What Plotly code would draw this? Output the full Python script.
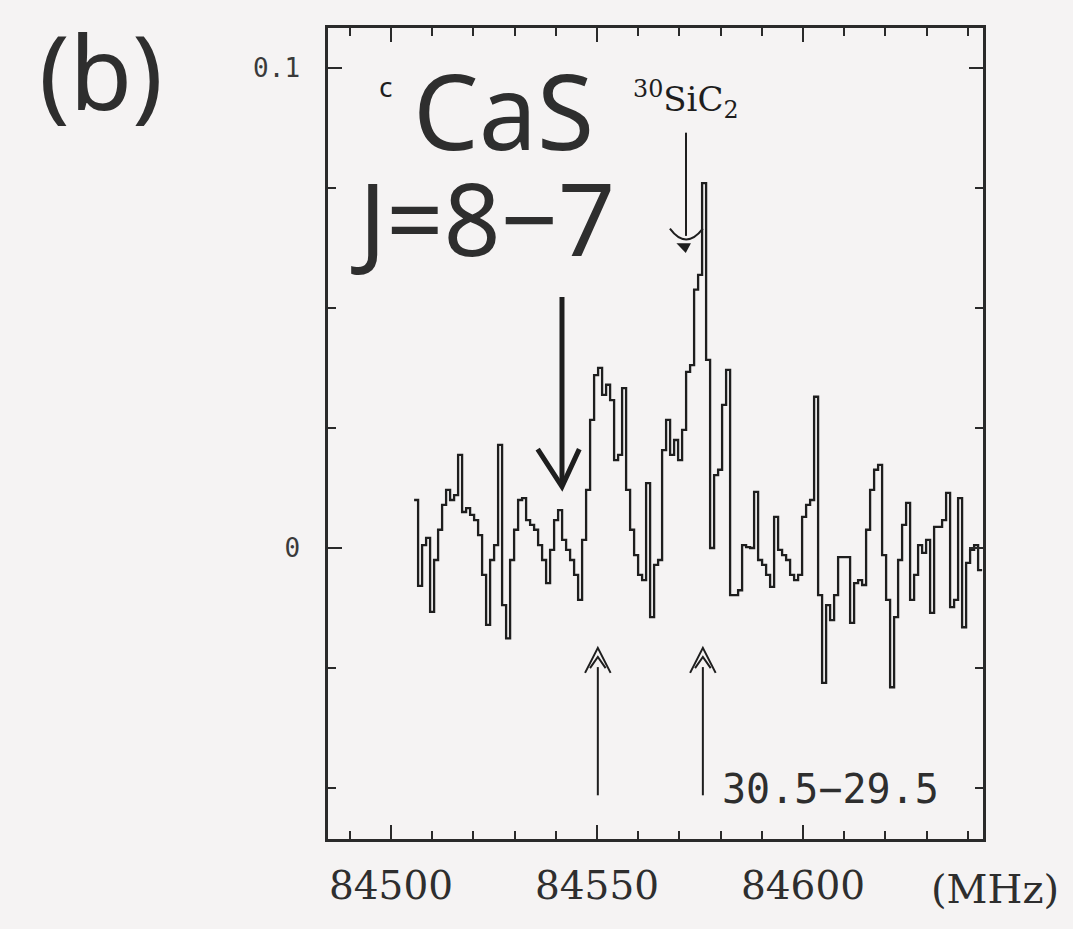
import numpy as np
import plotly.graph_objects as go

# Spectrum: left edge of the first channel and channel width (MHz)
F_START = 84505.6
CH_WIDTH = 0.971

# Antenna temperature of each channel (K)
TA = [
    0.0100, -0.0079, 0.0006, 0.0021, -0.0133, -0.0025, 0.0038, 0.0090, 0.0121, 0.0100,
    0.0110, 0.0194, 0.0075, 0.0083, 0.0069, 0.0058, 0.0027, -0.0056, -0.0160, -0.0025,
    0.0006, 0.0215, -0.0119, -0.0188, -0.0025, 0.0038, 0.0100, 0.0104, 0.0058, 0.0048,
    0.0038, 0.0006, -0.0025, -0.0073, -0.0004, 0.0058, 0.0079, 0.0017, -0.0004, -0.0025,
    -0.0056, -0.0108, 0.0017, 0.0121, 0.0267, 0.0360, 0.0375, 0.0319, 0.0340, 0.0308,
    0.0183, 0.0194, 0.0333, 0.0121, 0.0038, -0.0015, -0.0056, -0.0067, 0.0135, -0.0144,
    -0.0035, -0.0025, 0.0204, 0.0267, 0.0194, 0.0225, 0.0183, 0.0246, 0.0367, 0.0381,
    0.0538, 0.0569, 0.0760, 0.0392, 0.0000, 0.0152, 0.0163, 0.0298, 0.0371, -0.0098,
    -0.0098, -0.0088, 0.0006, 0.0002, 0.0000, 0.0117, -0.0025, -0.0035, -0.0056, -0.0081,
    0.0065, -0.0004, -0.0015, -0.0025, -0.0056, -0.0067, -0.0056, 0.0065, 0.0090, 0.0100,
    0.0315, -0.0098, -0.0281, -0.0119, -0.0150, -0.0098, -0.0019, -0.0019, -0.0019, -0.0156,
    -0.0073, -0.0067, -0.0077, 0.0038, 0.0121, 0.0163, 0.0173, -0.0015, -0.0108, -0.0290,
    -0.0144, -0.0025, 0.0048, 0.0094, -0.0108, -0.0056, 0.0006, -0.0010, 0.0017, -0.0135,
    0.0044, 0.0044, 0.0058, 0.0115, -0.0123, -0.0108, 0.0104, -0.0165, -0.0031, -0.0004,
    0.0006, -0.0046,
]

X_TICKS = [84500, 84550, 84600]
X_TICK_TEXT = ["84500", "84550", "84600"]
Y_TICKS = [0.0, 0.1]
Y_TICK_TEXT = ["0", "0.1"]

X_RANGE = [84484.7, 84643.7]
Y_RANGE = [-0.0606, 0.1083]

# Line positions marked on the spectrum (MHz)
CAS_FREQ = 84541.5
SIC2_FREQ = 84571.6
DOUBLET_FREQS = [84550.2, 84575.7]

INK = "#1e1e1e"
TEXT_INK = "#2e2e2e"
PAPER = "#f5f3f3"

edges = F_START + CH_WIDTH * np.arange(len(TA) + 1)
levels = list(TA) + [TA[-1]]

fig = go.Figure()
fig.add_trace(go.Scatter(
    x=edges, y=levels, mode="lines", line_shape="hv",
    line=dict(color=INK, width=2.3), hoverinfo="skip", showlegend=False,
))

shapes = []
# CaS J=8-7 arrow: shaft and open V head
shapes.append(dict(type="line", xref="x", yref="y",
                   x0=CAS_FREQ, x1=CAS_FREQ, y0=0.0523, y1=0.0135,
                   line=dict(color=INK, width=5)))
shapes.append(dict(type="path", xref="x", yref="y",
                   path=f"M {CAS_FREQ - 5.9},0.0206 L {CAS_FREQ},0.0128 L {CAS_FREQ + 4.2},0.0206",
                   line=dict(color=INK, width=5)))
# 30SiC2 marker
shapes.append(dict(type="line", xref="x", yref="y",
                   x0=SIC2_FREQ, x1=SIC2_FREQ, y0=0.0865, y1=0.0650,
                   line=dict(color=INK, width=2)))
shapes.append(dict(type="path", xref="x", yref="y",
                   path=f"M {SIC2_FREQ - 3.9},0.0665 Q {SIC2_FREQ},0.0620 {SIC2_FREQ + 4.1},0.0665",
                   line=dict(color=INK, width=2)))
shapes.append(dict(type="path", xref="x", yref="y",
                   path=f"M {SIC2_FREQ - 1.9},0.0633 L {SIC2_FREQ - 0.1},0.0617 L {SIC2_FREQ + 0.9},0.0633 Z",
                   fillcolor=INK, line=dict(color=INK, width=1.5)))
# Doublet markers from below
for f in DOUBLET_FREQS:
    shapes.append(dict(type="line", xref="x", yref="y",
                       x0=f, x1=f, y0=-0.0515, y1=-0.0248,
                       line=dict(color=INK, width=2)))
    shapes.append(dict(type="path", xref="x", yref="y",
                       path=f"M {f - 3.1},-0.0260 L {f},-0.0208 L {f + 3.1},-0.0260",
                       line=dict(color=INK, width=2)))
    shapes.append(dict(type="path", xref="x", yref="y",
                       path=f"M {f - 1.9},-0.0250 L {f},-0.0227 L {f + 1.9},-0.0250",
                       line=dict(color=INK, width=2)))

annotations = [
    dict(text="(b)", xref="paper", yref="paper", x=-0.3466, y=0.947,
         font=dict(family="Noto Sans", size=102, color=TEXT_INK)),
    dict(text="c", xref="x", yref="y", x=84498.6, y=0.0962,
         font=dict(family="Noto Sans", size=28, color=INK)),
    dict(text="CaS", xref="x", yref="y", x=84527.4, y=0.0913,
         font=dict(family="Noto Sans", size=104, color=TEXT_INK)),
    dict(text="J=8\u22127", xref="x", yref="y", x=84522.3, y=0.0689,
         font=dict(family="Noto Sans", size=100, color=TEXT_INK)),
    dict(text="<sup>30</sup>SiC<sub>2</sub>", xref="x", yref="y", x=84571.6, y=0.0935,
         font=dict(family="DejaVu Serif", size=34, color=INK)),
    dict(text="30.5\u221229.5", xref="x", yref="y", x=84606.6, y=-0.0502,
         font=dict(family="DejaVu Sans Mono", size=40, color=TEXT_INK)),
    dict(text="(MHz)", xref="paper", yref="paper", x=1.0183, y=-0.0620,
         font=dict(family="DejaVu Serif", size=40, color=TEXT_INK)),
]
for a in annotations:
    a.update(showarrow=False, xanchor="center", yanchor="middle")

fig.update_layout(
    width=1073, height=929,
    margin=dict(l=328, r=90, t=28, b=90),
    paper_bgcolor=PAPER, plot_bgcolor=PAPER,
    shapes=shapes, annotations=annotations,
    xaxis=dict(
        range=X_RANGE, showgrid=False, zeroline=False,
        showline=True, linecolor="#2a2a2a", linewidth=2.5, mirror="allticks",
        ticks="inside", ticklen=14, tickwidth=2, tickcolor="#2a2a2a",
        tickvals=X_TICKS, ticktext=X_TICK_TEXT, ticklabelstandoff=10,
        tickfont=dict(family="DejaVu Serif", size=39, color=TEXT_INK),
        minor=dict(dtick=10, tick0=84500, ticks="inside", ticklen=8,
                   tickwidth=2, tickcolor="#2a2a2a", showgrid=False),
    ),
    yaxis=dict(
        range=Y_RANGE, showgrid=False, zeroline=False,
        showline=True, linecolor="#2a2a2a", linewidth=2.5, mirror="allticks",
        ticks="inside", ticklen=14, tickwidth=2, tickcolor="#2a2a2a",
        tickvals=Y_TICKS, ticktext=Y_TICK_TEXT, ticklabelstandoff=20,
        tickfont=dict(family="DejaVu Sans Mono", size=26, color="#3a3a3a"),
        minor=dict(dtick=0.025, tick0=0, ticks="inside", ticklen=8,
                   tickwidth=2, tickcolor="#2a2a2a", showgrid=False),
    ),
)

fig.write_html("out.html")
